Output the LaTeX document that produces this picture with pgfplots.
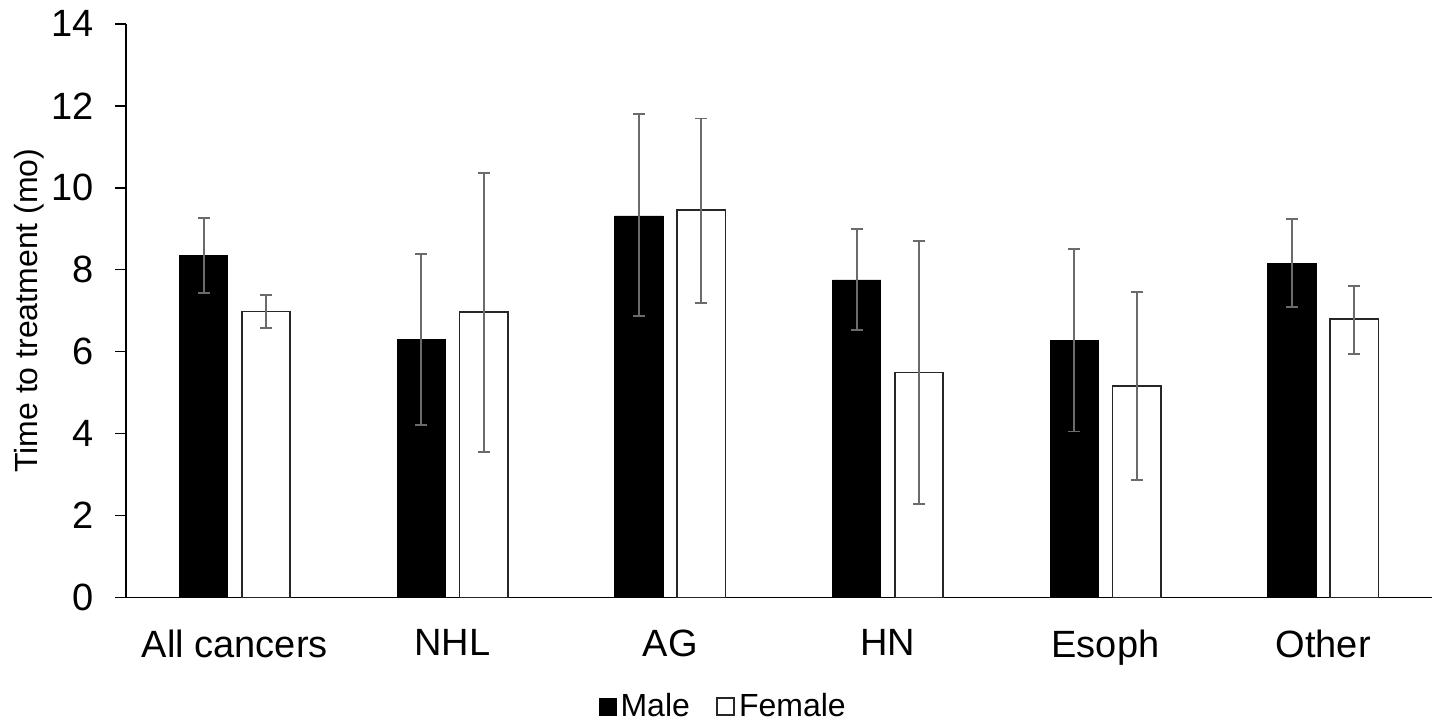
\documentclass[border=0pt]{standalone}
\usepackage{pgfplots}
\pgfplotsset{compat=1.18}
\usepackage{fontspec}
\setmainfont{Liberation Sans}
\begin{document}
\begin{tikzpicture}
\begin{axis}[
  name=ax,
  scale only axis=true,
  width=653pt, height=286.85pt,
  xmin=-0.5, xmax=5.5,
  ymin=0, ymax=14,
  ytick={0,2,...,14},
  xtick={0,1,2,3,4,5},
  xticklabels={All cancers,NHL,AG,HN,Esoph,Other},
  axis x line*=bottom,
  axis y line*=left,
  axis line style={black, line width=0.8pt, -},
  x axis line style={-},
  y axis line style={-},
  xtick style={draw=none},
  ytick style={black, line width=0.8pt},
  tick align=outside,
  major tick length=5.5pt,
  ytick pos=left,
  /pgf/number format/assume math mode=true,
  tick label style={font=\fontsize{19}{22}\selectfont},
  yticklabel style={xshift=-7pt},
  xticklabel style={yshift=-7pt},
  ylabel={Time to treatment (mo)},
  ylabel style={font=\fontsize{16}{19}\selectfont, at={(axis description cs:-0.074,0.5)}, anchor=center},
  ybar,
  bar width=0.222,
  legend columns=2,
  legend style={at={(axis description cs:0.458,-0.19)}, anchor=center, draw=none, fill=none,
    font=\fontsize{16}{18}\selectfont,
    /tikz/every even column/.append style={column sep=11pt}},
  legend image code/.code={\draw[#1] (-2pt,-4.3pt) rectangle (6.6pt,4.3pt);},
]
\addplot[fill=black, draw=black, line width=0.4pt, bar shift=-0.143,
  error bars/.cd, y dir=both, y explicit,
  error bar style={black!58, line width=0.9pt},
  error mark options={black!58, line width=0.9pt, mark size=3pt, rotate=90}]
  table[x=x, y=y, y error plus=ep, y error minus=em] {
x y ep em
0 8.34 0.92 0.90
1 6.29 2.09 2.09
2 9.31 2.49 2.45
3 7.75 1.25 1.23
4 6.27 2.23 2.22
5 8.16 1.07 1.07
};
\addlegendentry{Male}
\addplot[fill=white, draw=black!85, line width=0.95pt, bar shift=0.143,
  error bars/.cd, y dir=both, y explicit,
  error bar style={black!58, line width=0.9pt},
  error mark options={black!58, line width=0.9pt, mark size=3pt, rotate=90}]
  table[x=x, y=y, y error plus=ep, y error minus=em] {
x y ep em
0 6.98 0.40 0.41
1 6.96 3.39 3.40
2 9.45 2.24 2.26
3 5.49 3.21 3.20
4 5.17 2.28 2.30
5 6.79 0.82 0.84
};
\addlegendentry{Female}
\end{axis}
\pgfresetboundingbox
\path[use as bounding box] ([shift={(-63pt,-61.65pt)}]ax.south west) rectangle ([shift={(3pt,11.9pt)}]ax.north east);
\end{tikzpicture}
\end{document}
